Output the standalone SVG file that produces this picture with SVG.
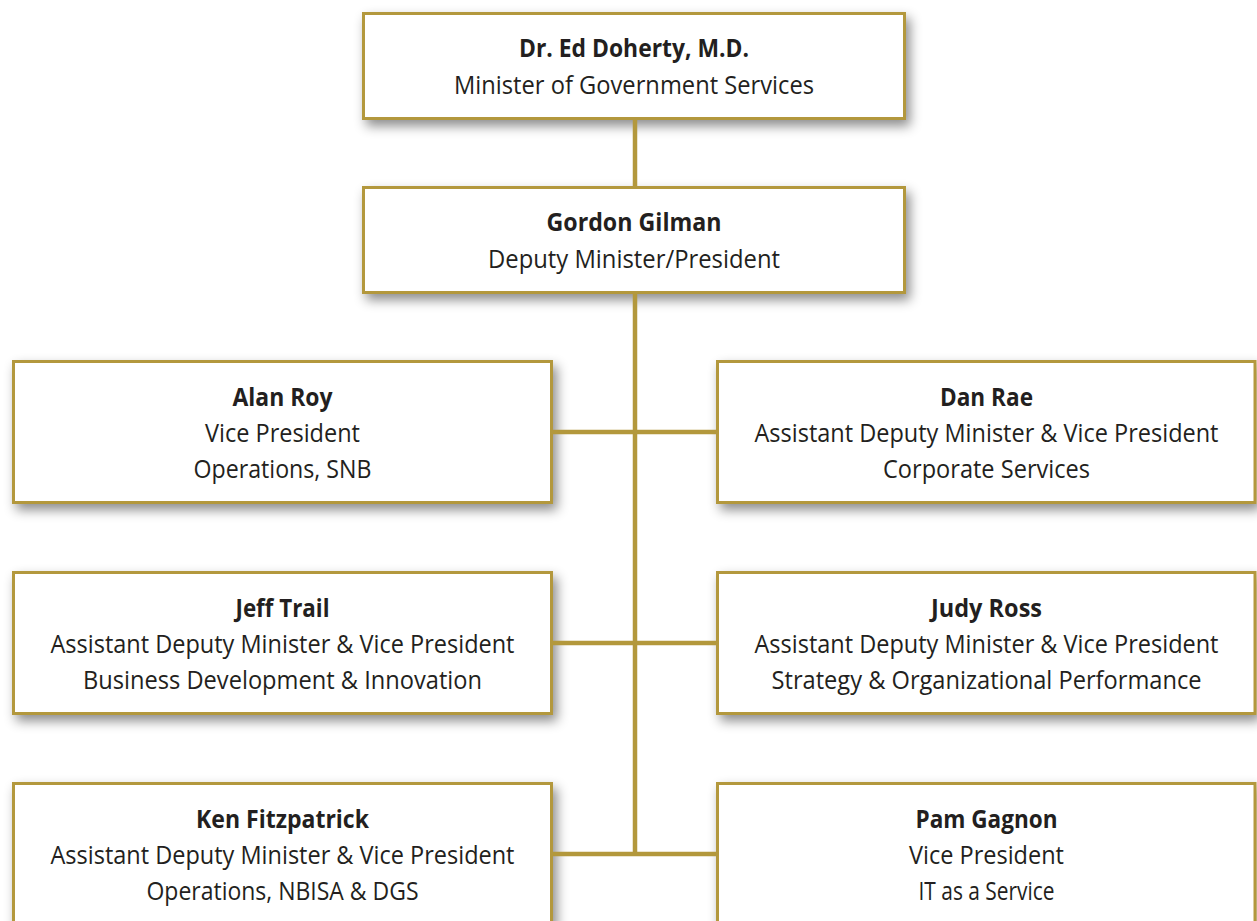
<svg xmlns="http://www.w3.org/2000/svg" width="1257" height="921" viewBox="0 0 1257 921">
  <defs>
    <filter id="shadow" x="-10%" y="-20%" width="125%" height="150%">
      <feDropShadow dx="4" dy="6" stdDeviation="6" flood-color="#000" flood-opacity="0.45"/>
    </filter>
    <style>
      .box { fill: #ffffff; stroke: #b3983c; stroke-width: 3; filter: url(#shadow); }
      .conn { stroke: #b3983c; stroke-width: 4.5; fill: none; }
      text { font-family: "Open Sans", "Noto Sans", "Liberation Sans", sans-serif; font-size: 25px; fill: #231f20; text-anchor: middle; }
      .name { font-weight: bold; }
    </style>
  </defs>
  <rect width="1257" height="921" fill="#ffffff"/>

  <g id="node-doherty">
    <rect class="box" x="363.5" y="13.5" width="541" height="105"/>
    <text class="name" x="634" y="57" textLength="230" lengthAdjust="spacingAndGlyphs">Dr. Ed Doherty, M.D.</text>
    <text x="634" y="94" textLength="360" lengthAdjust="spacingAndGlyphs">Minister of Government Services</text>
  </g>

  <g id="node-gilman">
    <rect class="box" x="363.5" y="187.5" width="541" height="105"/>
    <text class="name" x="634" y="231" textLength="175" lengthAdjust="spacingAndGlyphs">Gordon Gilman</text>
    <text x="634" y="268" textLength="292" lengthAdjust="spacingAndGlyphs">Deputy Minister/President</text>
  </g>

  <g id="node-roy">
    <rect class="box" x="13.5" y="361.5" width="538" height="141"/>
    <text class="name" x="282.5" y="406" textLength="100" lengthAdjust="spacingAndGlyphs">Alan Roy</text>
    <text x="282.5" y="442" textLength="155" lengthAdjust="spacingAndGlyphs">Vice President</text>
    <text x="282.5" y="478" textLength="178" lengthAdjust="spacingAndGlyphs">Operations, SNB</text>
  </g>

  <g id="node-rae">
    <rect class="box" x="717.5" y="361.5" width="537.5" height="141"/>
    <text class="name" x="986.5" y="406" textLength="93" lengthAdjust="spacingAndGlyphs">Dan Rae</text>
    <text x="986.5" y="442" textLength="464" lengthAdjust="spacingAndGlyphs">Assistant Deputy Minister &amp; Vice President</text>
    <text x="986.5" y="478" textLength="207" lengthAdjust="spacingAndGlyphs">Corporate Services</text>
  </g>

  <g id="node-trail">
    <rect class="box" x="13.5" y="572.5" width="538" height="141"/>
    <text class="name" x="282.5" y="617" textLength="94" lengthAdjust="spacingAndGlyphs">Jeff Trail</text>
    <text x="282.5" y="653" textLength="464" lengthAdjust="spacingAndGlyphs">Assistant Deputy Minister &amp; Vice President</text>
    <text x="282.5" y="689" textLength="399" lengthAdjust="spacingAndGlyphs">Business Development &amp; Innovation</text>
  </g>

  <g id="node-ross">
    <rect class="box" x="717.5" y="572.5" width="537.5" height="141"/>
    <text class="name" x="986.5" y="617" textLength="111" lengthAdjust="spacingAndGlyphs">Judy Ross</text>
    <text x="986.5" y="653" textLength="464" lengthAdjust="spacingAndGlyphs">Assistant Deputy Minister &amp; Vice President</text>
    <text x="986.5" y="689" textLength="430" lengthAdjust="spacingAndGlyphs">Strategy &amp; Organizational Performance</text>
  </g>

  <g id="node-fitzpatrick">
    <rect class="box" x="13.5" y="783.5" width="538" height="141"/>
    <text class="name" x="282.5" y="828" textLength="173" lengthAdjust="spacingAndGlyphs">Ken Fitzpatrick</text>
    <text x="282.5" y="864" textLength="464" lengthAdjust="spacingAndGlyphs">Assistant Deputy Minister &amp; Vice President</text>
    <text x="282.5" y="900" textLength="272" lengthAdjust="spacingAndGlyphs">Operations, NBISA &amp; DGS</text>
  </g>

  <g id="node-gagnon">
    <rect class="box" x="717.5" y="783.5" width="537.5" height="141"/>
    <text class="name" x="986.5" y="828" textLength="142" lengthAdjust="spacingAndGlyphs">Pam Gagnon</text>
    <text x="986.5" y="864" textLength="155" lengthAdjust="spacingAndGlyphs">Vice President</text>
    <text x="986.5" y="900" textLength="136" lengthAdjust="spacingAndGlyphs">IT as a Service</text>
  </g>

  <g id="connectors">
    <line class="conn" x1="635" y1="120" x2="635" y2="186"/>
    <line class="conn" x1="635" y1="294" x2="635" y2="856"/>
    <line class="conn" x1="553" y1="432" x2="716" y2="432"/>
    <line class="conn" x1="553" y1="643" x2="716" y2="643"/>
    <line class="conn" x1="553" y1="854" x2="716" y2="854"/>
  </g>
</svg>
